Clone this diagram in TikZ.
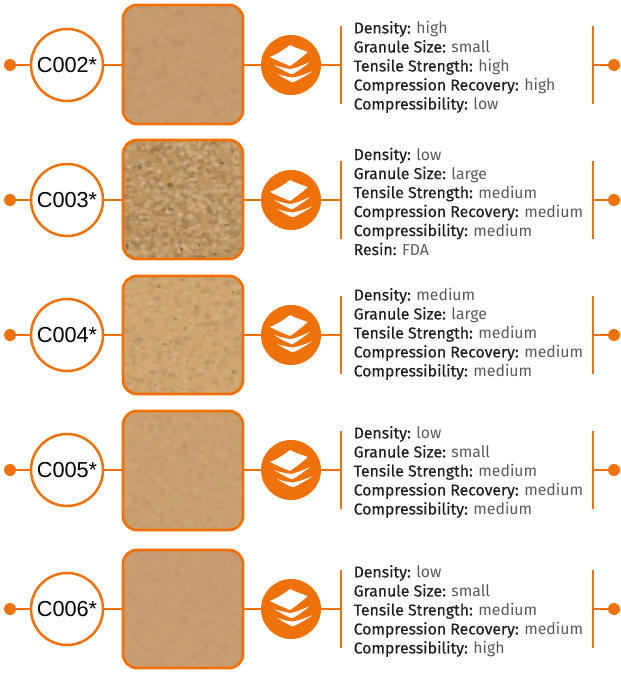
\documentclass[tikz,border=0pt]{standalone}
\usepackage{fontspec}
\setmainfont{Fira Sans}
\newfontfamily\labfont[FakeBold=0.25]{Fira Sans}
\newfontfamily\codefont{Liberation Sans}
\definecolor{org}{HTML}{EE7209}
\definecolor{labc}{HTML}{1E1E1E}
\definecolor{valc}{HTML}{5A5A5A}
\newcommand{\lv}[2]{{\labfont\color{labc}#1:} {\color{valc}#2}\\}
\newcommand{\specbox}[1]{\fontsize{15.8}{19}\selectfont #1}
% texture: count, max radius, colour, opacity
\newcommand{\speckle}[4]{%
  \foreach \i in {1,...,#1}{%
    \pgfmathsetmacro{\px}{183+60*rand}%
    \pgfmathsetmacro{\py}{\cy+60*rand}%
    \pgfmathsetmacro{\ra}{#2*(0.5+0.5*rnd)}%
    \pgfmathsetmacro{\rb}{#2*(0.4+0.4*rnd)}%
    \fill[#3,opacity=#4] (\px,\py) ellipse [x radius=\ra,y radius=\rb];%
  }%
}
\tikzset{
  link/.style={org,line width=2.5pt},
  bar/.style={org,line width=2.8pt},
  enddot/.style={circle,fill=org,draw=none,minimum size=12pt,inner sep=0pt},
  codecirc/.style={circle,draw=org,line width=2.5pt,fill=white,minimum size=72pt,inner sep=0pt,font=\codefont\fontsize{21.7}{24}\selectfont,text=black},
  iconcirc/.style={circle,fill=org,draw=none,minimum size=60pt,inner sep=0pt},
  photoframe/.style={draw=org,line width=2.8pt,rounded corners=14pt},
  spectext/.style={anchor=west,align=left,inner sep=0pt},
  sheet/.style={fill=white,draw=none,rounded corners=0.8pt}
}
\newcommand{\photo}[6]{% id, y, top, bottom, base, texture
  \def\cy{#2}%
  \begin{scope}
    \clip[rounded corners=14pt] (123,#3) rectangle (243,#4);
    \fill[#5] (123,#3) rectangle (243,#4);
    #6
  \end{scope}
  \path[photoframe] (123,#3) rectangle (243,#4);
  \coordinate (ph#1w) at (123,#2);
  \coordinate (ph#1e) at (243,#2);
}
\newcommand{\row}[3]{% id, y, code
  \node[enddot] (dl#1) at (10,#2) {};
  \node[codecirc] (code#1) at (67,#2) {#3};
  \node[iconcirc] (icon#1) at (291,#2) {};
  \coordinate (barl#1) at (341,#2);
  \coordinate (barr#1) at (593,#2);
  \node[enddot] (dr#1) at (614,#2) {};
  \begin{scope}[shift={(291,#2)}]
    \fill[sheet] (-14,9) .. controls (-8,11) and (-3,12) .. (2,12.5) .. controls (10,11) and (17,8) .. (22,6) .. controls (16,10) and (9,14) .. (2,17.5) .. controls (-4,15) and (-9,12) .. (-14,9) -- cycle;
    \fill[sheet] (-17,0) .. controls (-11,2) and (-5,3.5) .. (0,4) .. controls (7,2.5) and (14,-1) .. (19,-3) .. controls (14,1) and (7,6) .. (1,9.5) .. controls (-5,7) and (-12,3) .. (-17,0) -- cycle;
    \fill[sheet] (-21,-8) .. controls (-12,-12) and (-6,-16) .. (-1,-20) .. controls (5,-17) and (11,-15) .. (17,-13) .. controls (11,-8) and (5,-3) .. (-1,1) .. controls (-8,-2) and (-15,-5) .. (-21,-8) -- cycle;
  \end{scope}
  \draw[link] (dl#1) -- (code#1);
  \draw[link] (code#1) -- (ph#1w);
  \draw[link] (ph#1e) -- (icon#1);
  \draw[link] (icon#1) -- (barl#1);
  \draw[bar] ([yshift=-39pt]barl#1) -- ([yshift=39pt]barl#1);
  \draw[bar] ([yshift=-39pt]barr#1) -- ([yshift=39pt]barr#1);
  \draw[link] (barr#1) -- (dr#1);
}
\begin{document}
\begin{tikzpicture}[x=1pt,y=-1pt]
\useasboundingbox (0,0) rectangle (621,675);
\pgfmathsetseed{4242}
\definecolor{b1}{HTML}{C69A6E}
\definecolor{b2}{HTML}{BD9560}
\definecolor{b3}{HTML}{CDA670}
\definecolor{b4}{HTML}{C9A06E}
\definecolor{b5}{HTML}{C99C72}
\photo{a}{65}{5}{124}{b1}{\speckle{220}{5}{b1!88!black}{0.15}\speckle{220}{5}{b1!85!white}{0.15}}
\photo{b}{200}{140}{259}{b2}{\speckle{420}{4}{b2!70!black}{0.22}\speckle{420}{3.5}{b2!55!white}{0.28}\speckle{12}{3}{b2!45!black}{0.45}}
\photo{c}{335}{276}{394}{b3}{\speckle{300}{4}{b3!78!black}{0.18}\speckle{300}{3.5}{b3!70!white}{0.2}\speckle{10}{2.5}{b3!55!black}{0.35}}
\photo{d}{470}{411}{530}{b4}{\speckle{280}{4}{b4!88!black}{0.15}\speckle{280}{3}{b4!75!white}{0.18}}
\photo{e}{609}{550}{668}{b5}{\speckle{280}{4}{b5!90!black}{0.12}\speckle{280}{3}{b5!85!white}{0.12}}
\row{a}{65}{C002*}
\row{b}{200}{C003*}
\row{c}{335}{C004*}
\row{d}{470}{C005*}
\row{e}{609}{C006*}
\node[spectext] (ta) at (353.5,67) {\specbox{\parbox{262pt}{\raggedright\lv{Density}{high}\lv{Granule Size}{small}\lv{Tensile Strength}{high}\lv{Compression Recovery}{high}{\labfont\color{labc}Compressibility:} {\color{valc}low}}}};
\node[spectext] (tb) at (353.5,201.5) {\specbox{\parbox{262pt}{\raggedright\lv{Density}{low}\lv{Granule Size}{large}\lv{Tensile Strength}{medium}\lv{Compression Recovery}{medium}\lv{Compressibility}{medium}{\labfont\color{labc}Resin:} {\color{valc}FDA}}}};
\node[spectext] (tc) at (353.5,334) {\specbox{\parbox{262pt}{\raggedright\lv{Density}{medium}\lv{Granule Size}{large}\lv{Tensile Strength}{medium}\lv{Compression Recovery}{medium}{\labfont\color{labc}Compressibility:} {\color{valc}medium}}}};
\node[spectext] (td) at (353.5,472) {\specbox{\parbox{262pt}{\raggedright\lv{Density}{low}\lv{Granule Size}{small}\lv{Tensile Strength}{medium}\lv{Compression Recovery}{medium}{\labfont\color{labc}Compressibility:} {\color{valc}medium}}}};
\node[spectext] (te) at (353.5,611) {\specbox{\parbox{262pt}{\raggedright\lv{Density}{low}\lv{Granule Size}{small}\lv{Tensile Strength}{medium}\lv{Compression Recovery}{medium}{\labfont\color{labc}Compressibility:} {\color{valc}high}}}};
\end{tikzpicture}
\end{document}
